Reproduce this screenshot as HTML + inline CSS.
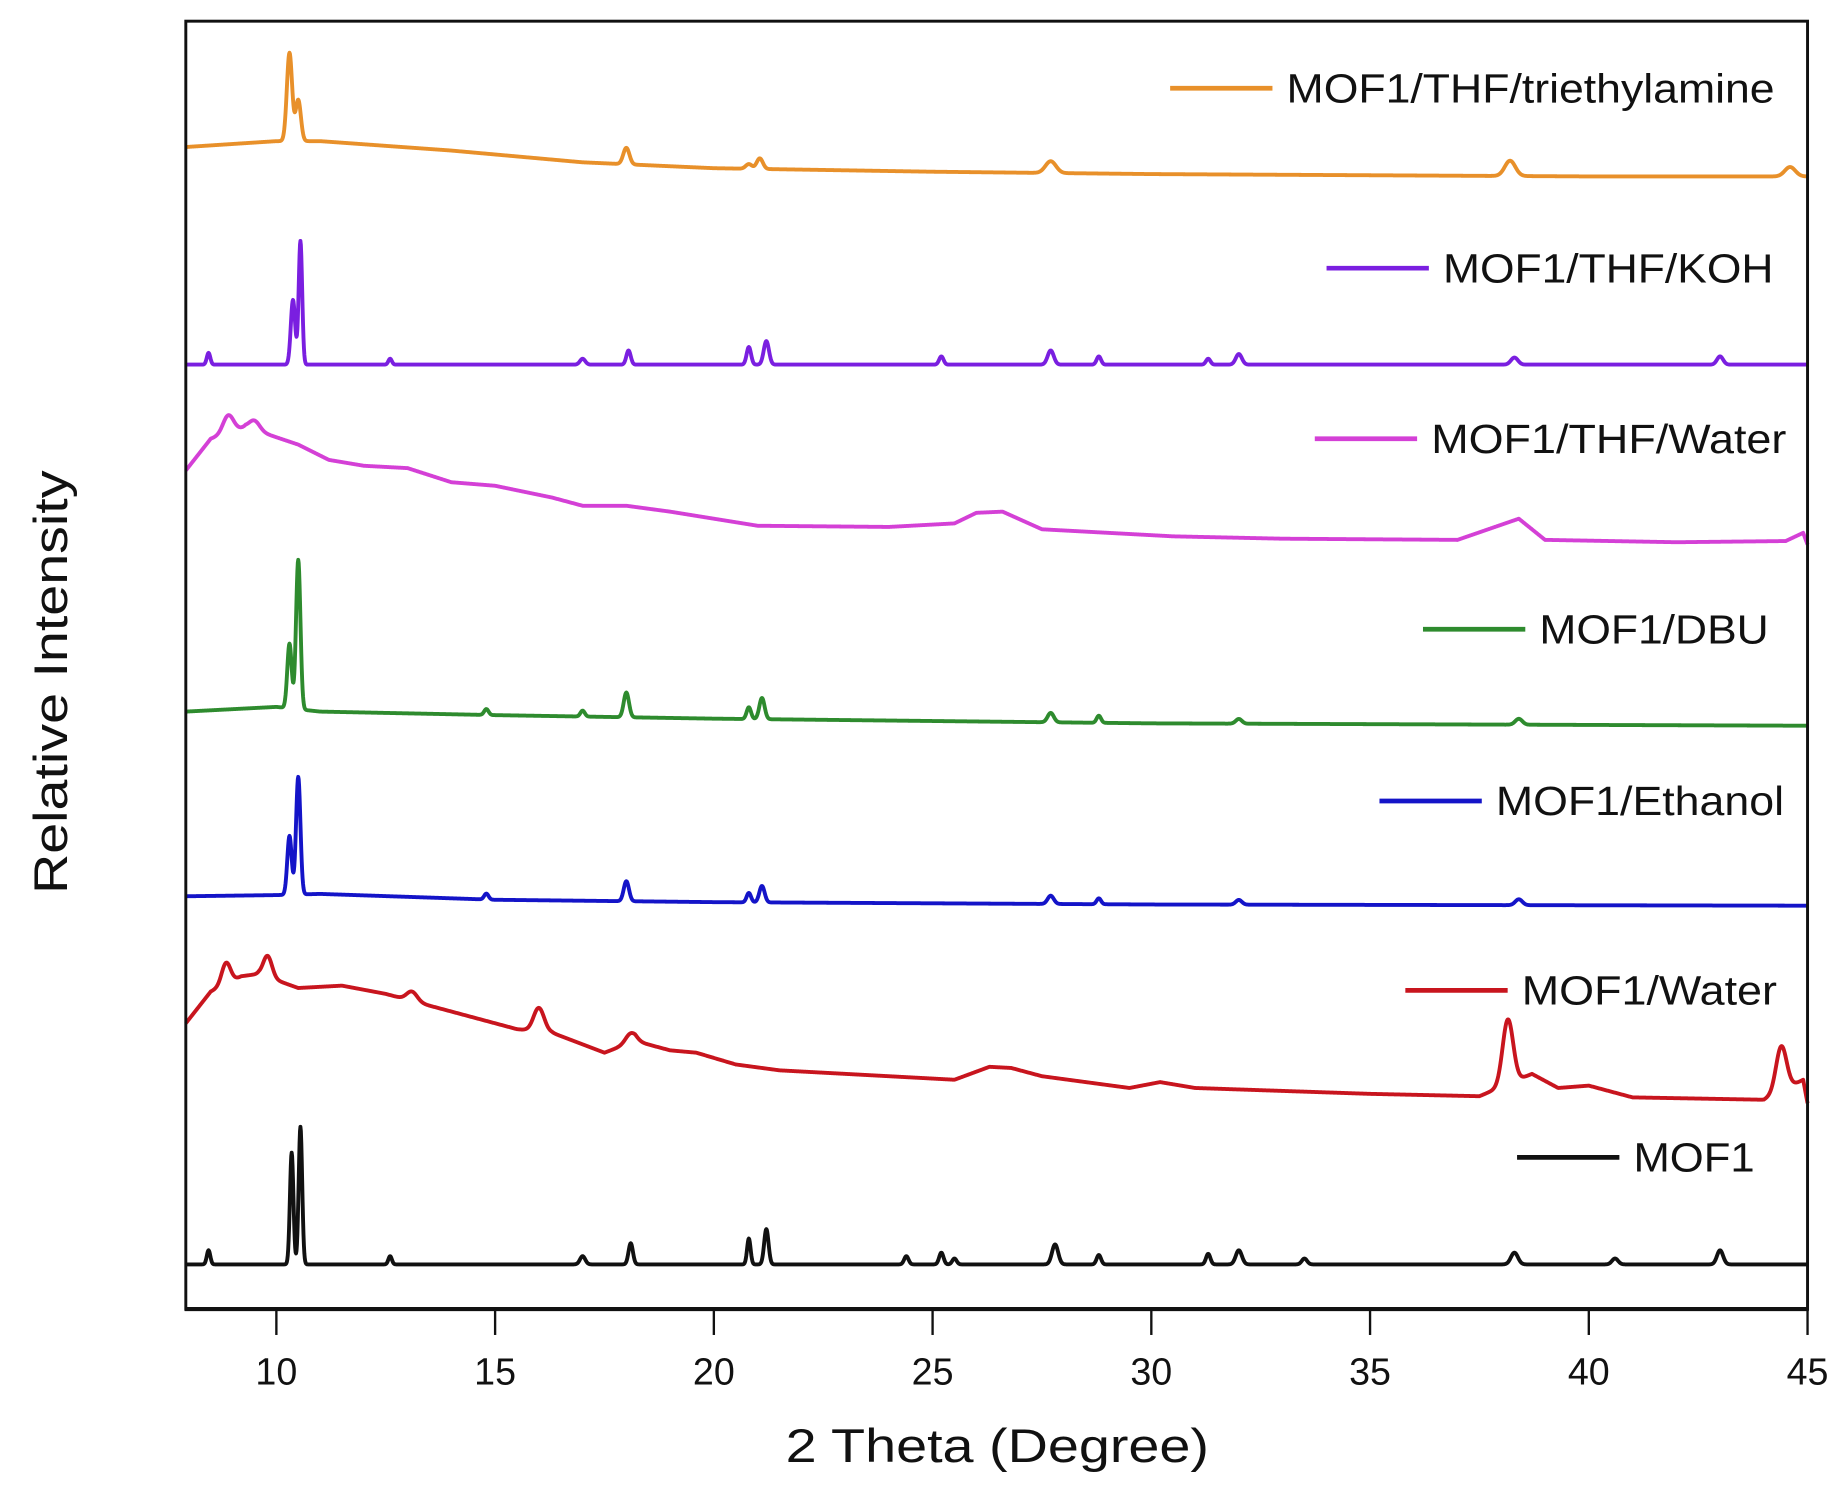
<!DOCTYPE html>
<html><head><meta charset="utf-8"><style>
html,body{margin:0;padding:0;background:#fff;}
svg{display:block;}
text{font-family:"Liberation Sans",Arial,sans-serif;fill:#111;}
</style></head>
<body>
<svg id="chart" width="1844" height="1502" viewBox="0 0 1568 1277" preserveAspectRatio="none" xmlns="http://www.w3.org/2000/svg">
<g id="series"></g>
<g id="legend"></g>
<rect x="158" y="18" width="1379" height="1095" fill="none" stroke="#111" stroke-width="2.5"/>
<line x1="157" y1="1113" x2="1538" y2="1113" stroke="#111" stroke-width="3.5"/>
<g id="xticks"></g>
<text x="848" y="1243" text-anchor="middle" font-size="40" textLength="360" lengthAdjust="spacingAndGlyphs">2 Theta (Degree)</text>
<text transform="translate(57,580) rotate(-90)" text-anchor="middle" font-size="40" textLength="360" lengthAdjust="spacingAndGlyphs">Relative Intensity</text>
</svg>
<script>
const xTicks = [10,15,20,25,30,35,40,45];
const seriesNames = ["MOF1/THF/triethylamine","MOF1/THF/KOH","MOF1/THF/Water","MOF1/DBU","MOF1/Ethanol","MOF1/Water","MOF1"];
const seriesColors = ["#E8902A","#7A1FE0","#D440D6","#2E8B2E","#1414C8","#C8151E","#111111"];
// baselines: 2theta positions and intensity values (arbitrary units, offset stacked)
const baseX0 = [7.93,10,11,14,17,20,25,30,40,45];
const baseY0 = [988,993,993,985,975,970,967,965,963,963];
const baseX1 = [7.93,45];
const baseY1 = [803,803];
const baseX2 = [7.93,8.5,9.3,10.5,11.2,12,13,14,15,16.3,17,18,19,20,21,24,25.5,26,26.6,27.5,29,30.5,33,37,38.4,39,42,44.5,44.9,45];
const baseY2 = [713,740,750,735,722,717,715,703,700,690,683,683,678,672,666,665,668,677,678,663,660,657,655,654,672,654,652,653,660,650];
const baseX3 = [7.93,10,11,15,20,30,45];
const baseY3 = [508,512,508,505,502,498,496];
const baseX4 = [7.93,10,11,15,20,30,45];
const baseY4 = [351,352,353,348,346,344,343];
const baseX5 = [7.93,8.5,9.2,9.6,10.5,11.5,12.5,13.3,14.5,15.5,16.3,17.5,18.2,19,19.6,20.5,21.5,24,25.5,26.3,26.8,27.5,29.5,30.2,31,35,37.5,38.7,39.3,40,41,44,44.9,45];
const baseY5 = [243,270,283,285,273,275,268,260,248,238,235,218,228,220,218,208,203,198,195,206,205,198,188,193,188,183,181,200,188,190,180,178,195,175];
const baseX6 = [7.93,45];
const baseY6 = [38,38];
// peaks: position (2theta), height, width
const peakX0 = [10.3,10.5,18,20.8,21.05,27.7,38.2,44.6];
const peakH0 = [75,35,14,4,9,10,13,8];
const peakW0 = [0.06,0.06,0.07,0.07,0.07,0.12,0.12,0.12];
const peakX1 = [10.55,10.38,8.45,12.6,17,18.05,20.8,21.2,25.2,27.7,28.8,31.3,32,38.3,43];
const peakH1 = [105,55,10,5,5,12,15,20,7,12,7,5,9,6,7];
const peakW1 = [0.04,0.05,0.04,0.04,0.06,0.05,0.05,0.06,0.05,0.07,0.05,0.05,0.07,0.08,0.07];
const peakX2 = [8.9,9.5];
const peakH2 = [15,8];
const peakW2 = [0.12,0.12];
const peakX3 = [10.5,10.3,14.8,17,18,20.8,21.1,27.7,28.8,32,38.4];
const peakH3 = [127,55,5,5,21,10,18,8,6,4,5];
const peakW3 = [0.05,0.05,0.05,0.05,0.06,0.05,0.06,0.07,0.05,0.07,0.08];
const peakX4 = [10.5,10.3,14.8,18,20.8,21.1,27.7,28.8,32,38.4];
const peakH4 = [100,50,5,17,8,14,7,5,4,5];
const peakW4 = [0.05,0.05,0.05,0.06,0.05,0.06,0.07,0.05,0.07,0.08];
const peakX5 = [8.85,9.8,13.1,16,18.1,38.15,44.4];
const peakH5 = [18,18,8,20,8,55,38];
const peakW5 = [0.1,0.1,0.12,0.12,0.12,0.12,0.12];
const peakX6 = [10.55,10.35,8.45,12.6,17,18.1,20.8,21.2,24.4,25.2,25.5,27.8,28.8,31.3,32,33.5,38.3,40.6,43];
const peakH6 = [117,95,12,7,7,18,22,30,7,10,5,17,8,9,12,5,10,5,12];
const peakW6 = [0.04,0.04,0.04,0.04,0.06,0.05,0.04,0.05,0.05,0.05,0.05,0.07,0.05,0.05,0.07,0.06,0.08,0.07,0.07];

const baseXs=[baseX0,baseX1,baseX2,baseX3,baseX4,baseX5,baseX6];
const baseYs=[baseY0,baseY1,baseY2,baseY3,baseY4,baseY5,baseY6];
const peakXs=[peakX0,peakX1,peakX2,peakX3,peakX4,peakX5,peakX6];
const peakHs=[peakH0,peakH1,peakH2,peakH3,peakH4,peakH5,peakH6];
const peakWs=[peakW0,peakW1,peakW2,peakW3,peakW4,peakW5,peakW6];

const X0=7.93, X1=45, PX0=158, PX1=1537;
function xs(v){return PX0+(v-X0)/(X1-X0)*(PX1-PX0);}
function ys(v){return 1113-v;}
function interp(bx,by,x){
  if(x<=bx[0])return by[0];
  for(let i=1;i<bx.length;i++){ if(x<=bx[i]){const t=(x-bx[i-1])/(bx[i]-bx[i-1]);return by[i-1]+t*(by[i]-by[i-1]);} }
  return by[by.length-1];
}
const NS="http://www.w3.org/2000/svg";
const sg=document.getElementById('series');
for(let s=0;s<seriesNames.length;s++){
  const pts=[];
  for(let x=X0;x<=X1+1e-9;x+=0.01){
    let v=interp(baseXs[s],baseYs[s],x);
    for(let k=0;k<peakXs[s].length;k++){const d=(x-peakXs[s][k])/peakWs[s][k];v+=peakHs[s][k]*Math.exp(-0.5*d*d);}
    pts.push(xs(x).toFixed(2)+","+ys(v).toFixed(2));
  }
  const pl=document.createElementNS(NS,'polyline');
  
  
  pl.setAttribute('points',pts.join(' '));
  pl.setAttribute('fill','none');
  pl.setAttribute('stroke',seriesColors[s]);
  pl.setAttribute('stroke-width','3.3');
  pl.setAttribute('stroke-linejoin','round');
  sg.appendChild(pl);
}
const legendY=[75,228,373,535,681,842,984];
const legendLineX=[995,1128,1118,1210,1173,1195,1290];
const legendTextW=[415,281,302,195,245,217,103];
const lg=document.getElementById('legend');
for(let s=0;s<seriesNames.length;s++){
  const l=document.createElementNS(NS,'line');
  
  
  l.setAttribute('x1',legendLineX[s]);l.setAttribute('x2',legendLineX[s]+87);
  l.setAttribute('y1',legendY[s]);l.setAttribute('y2',legendY[s]);
  l.setAttribute('stroke',seriesColors[s]);l.setAttribute('stroke-width','4');
  lg.appendChild(l);
  const t=document.createElementNS(NS,'text');
  
  
  t.setAttribute('x',legendLineX[s]+99);t.setAttribute('y',legendY[s]+12);
  t.setAttribute('font-size','35');
  t.setAttribute('textLength',legendTextW[s]);
  t.setAttribute('lengthAdjust','spacingAndGlyphs');
  t.textContent=seriesNames[s];
  lg.appendChild(t);
}
const xt=document.getElementById('xticks');
for(const v of xTicks){
  const l=document.createElementNS(NS,'line');
  
  
  l.setAttribute('x1',xs(v));l.setAttribute('x2',xs(v));l.setAttribute('y1',1113);l.setAttribute('y2',1135);
  l.setAttribute('stroke','#111');l.setAttribute('stroke-width','2');
  xt.appendChild(l);
  const t=document.createElementNS(NS,'text');
  
  
  t.setAttribute('x',xs(v));t.setAttribute('y',1177);t.setAttribute('text-anchor','middle');
  t.setAttribute('font-size','32');
  t.textContent=v;
  xt.appendChild(t);
}
</script>
</body></html>
